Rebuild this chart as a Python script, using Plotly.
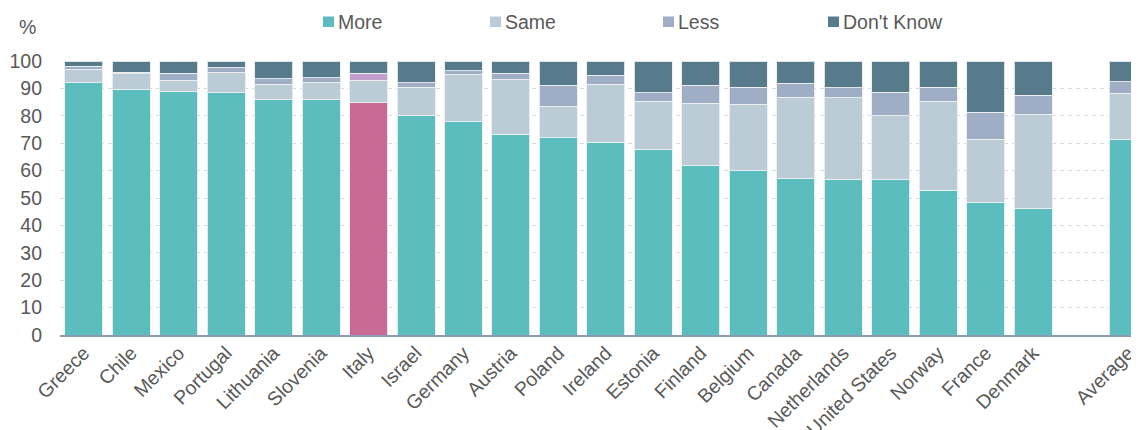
import plotly.graph_objects as go

categories = ["Greece", "Chile", "Mexico", "Portugal", "Lithuania", "Slovenia", "Italy",
              "Israel", "Germany", "Austria", "Poland", "Ireland", "Estonia", "Finland",
              "Belgium", "Canada", "Netherlands", "United States", "Norway", "France",
              "Denmark", "", "Average"]

more = [92.0, 89.7, 88.9, 88.6, 86.0, 86.0, 84.7, 80.2, 78.0, 73.2, 72.2, 70.4, 67.8,
        61.9, 59.9, 57.2, 56.8, 56.6, 52.8, 48.4, 46.2, None, 71.4]
same = [5.0, 5.6, 4.1, 7.3, 5.5, 6.3, 8.3, 10.2, 17.1, 19.9, 11.3, 21.1, 17.6,
        22.7, 24.3, 29.6, 29.7, 23.5, 32.5, 23.0, 34.4, None, 16.8]
less = [1.0, 0.6, 2.5, 1.7, 2.1, 1.6, 2.5, 1.7, 1.3, 2.4, 7.7, 3.3, 3.1,
        6.5, 6.3, 5.1, 3.8, 8.5, 5.1, 9.9, 6.9, None, 4.3]
dont_know = [2.0, 4.1, 4.5, 2.4, 6.4, 6.1, 4.5, 7.9, 3.6, 4.5, 8.8, 5.2, 11.5,
             8.9, 9.5, 8.1, 9.7, 11.4, 9.6, 18.7, 12.5, None, 7.5]

highlight = "Italy"
y_ticks = [0, 10, 20, 30, 40, 50, 60, 70, 80, 90, 100]

C_MORE, C_MORE_HL = "#5BBDBD", "#C96A95"
C_SAME, C_SAME_HL = "#BBCCD6", "#BBCCD6"
C_LESS, C_LESS_HL = "#9FAEC5", "#C39DCB"
C_DK, C_DK_HL = "#577B8A", "#577B8A"

x = list(range(len(categories)))


def colors(base, hl):
    return [hl if c == highlight else base for c in categories]


series = [
    ("More", more, C_MORE, C_MORE_HL),
    ("Same", same, C_SAME, C_SAME_HL),
    ("Less", less, C_LESS, C_LESS_HL),
    ("Don't Know", dont_know, C_DK, C_DK_HL),
]

FONT = "Liberation Sans, Arial, sans-serif"
FS = 19.5
GREY = "#595959"
OFF = 8  # page body margin
W, H = 1139 - OFF, 430 - OFF
# plot area on screen: x 60..1139, y 61..335
ML, MR, MT, MB = 60 - OFF, 0, 61 - OFF, 95
pw = W - ML - MR
ph = H - MT - MB


def px_x(px):
    return (px - OFF - ML) / pw


def px_y(py):
    return 1 - (py - OFF - MT) / ph


fig = go.Figure()
for name, vals, base, hl in series:
    fig.add_trace(go.Bar(
        x=x, y=vals, name=name, showlegend=False,
        marker=dict(color=colors(base, hl), line=dict(color="rgba(235,240,242,0.9)", width=1)),
        hoverinfo="skip",
    ))

# legend drawn as small squares + text
legend_marker_px = [323, 490, 663, 828]
shapes, annotations = [], []
for (name, _, base, _), mx in zip(series, legend_marker_px):
    shapes.append(dict(type="rect", xref="paper", yref="paper",
                       x0=px_x(mx), x1=px_x(mx + 11), y0=px_y(27), y1=px_y(16.5),
                       fillcolor=base, line=dict(width=0)))
    annotations.append(dict(text=name, xref="paper", yref="paper", x=px_x(mx + 13), y=px_y(21.5),
                            xanchor="left", yanchor="middle", showarrow=False,
                            font=dict(family=FONT, size=FS, color=GREY)))

annotations.append(dict(text="%", xref="paper", yref="paper", x=px_x(27.5), y=px_y(27),
                        xanchor="center", yanchor="middle", showarrow=False,
                        font=dict(family=FONT, size=FS, color=GREY)))

fig.update_layout(
    width=W, height=H,
    margin=dict(l=ML, r=MR, t=MT, b=MB, pad=0, autoexpand=False),
    barmode="stack", bargap=0.2,
    plot_bgcolor="white", paper_bgcolor="white",
    font=dict(family=FONT, size=FS, color=GREY),
    showlegend=False,
    xaxis=dict(
        tickmode="array", tickvals=x, ticktext=categories, tickangle=-45,
        range=[-0.5, 22.23], showgrid=False, zeroline=False, automargin=False,
        showline=True, linecolor="#8C9BB0", linewidth=2, ticks="",
        ticklabelstandoff=-3,
        tickfont=dict(family=FONT, size=FS, color=GREY),
    ),
    yaxis=dict(
        range=[0, 100], tickvals=y_ticks, showgrid=True, gridcolor="#D9D9D9",
        griddash="4px,4px", gridwidth=1, zeroline=False, showline=False, automargin=False,
        ticks="", ticklabelstandoff=17,
        tickfont=dict(family=FONT, size=FS, color=GREY),
    ),
    shapes=shapes,
    annotations=annotations,
)

fig.write_html("out.html")
